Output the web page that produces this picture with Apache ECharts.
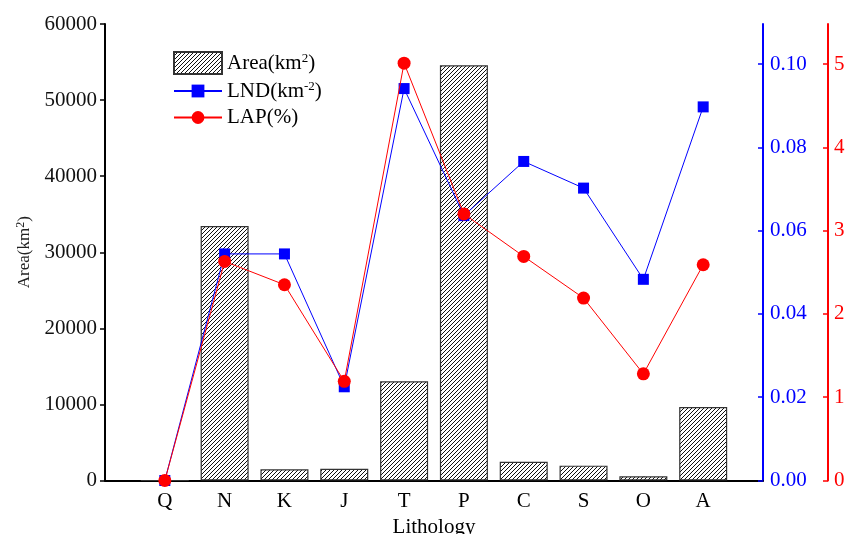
<!DOCTYPE html>
<html>
<head>
<meta charset="utf-8">
<script src="https://cdn.jsdelivr.net/npm/echarts@6/dist/echarts.min.js"></script>
<style>
  html, body { margin: 0; padding: 0; background: #fff; }
  #chart { width: 845px; height: 534px; }
</style>
</head>
<body>
<div id="chart"></div>
<script>
// Lithology classes along the x axis
const categories = ['Q', 'N', 'K', 'J', 'T', 'P', 'C', 'S', 'O', 'A'];
// Outcrop area of each lithology (km²)
const areaKm2 = [0, 33450, 1470, 1550, 13040, 54570, 2470, 1950, 550, 9660];
// Landslide number density (km⁻²)
const lnd = [0, 0.0544, 0.0544, 0.0225, 0.0941, 0.0636, 0.0766, 0.0702, 0.0483, 0.0897];
// Landslide area percentage (%)
const lap = [0, 2.63, 2.35, 1.19, 5.01, 3.20, 2.69, 2.19, 1.28, 2.59];

// Tick values on the two right-hand axes
const lndTicks = [0, 0.02, 0.04, 0.06, 0.08, 0.10];
const lapTicks = [0, 1, 2, 3, 4, 5];

const FONT = 'Liberation Serif';

// one empty slot either side of the categories
const xData = [''].concat(categories, ['']);
const pad = arr => [null].concat(arr, [null]);

// diagonal hatch fill for the bars
function hatchPattern() {
  const s = 4;
  const c = document.createElement('canvas');
  c.width = s; c.height = s;
  const g = c.getContext('2d');
  g.fillStyle = '#ffffff';
  g.fillRect(0, 0, s, s);
  g.strokeStyle = '#111111';
  g.lineWidth = 1;
  g.beginPath();
  g.moveTo(0, s); g.lineTo(s, 0);
  g.moveTo(-1, 1); g.lineTo(1, -1);
  g.moveTo(s - 1, s + 1); g.lineTo(s + 1, s - 1);
  g.stroke();
  return c;
}

const chart = echarts.init(document.getElementById('chart'), null, { renderer: 'canvas' });

const legendNames = {
  'Area': 'Area(km{sup|2})',
  'LND': 'LND(km{sup|-2})',
  'LAP': 'LAP(%)'
};

const legendText = {
  fontFamily: FONT,
  fontSize: 21,
  color: '#000',
  rich: {
    sup: { fontFamily: FONT, fontSize: 13, verticalAlign: 'top', padding: [0, 0, 9, 0], color: '#000' }
  }
};

function makeLegend(name, top, itemHeight, icon) {
  const l = {
    orient: 'vertical',
    left: 173,
    top: top,
    padding: 0,
    itemWidth: 48,
    itemHeight: itemHeight,
    itemGap: 0,
    data: [name],
    formatter: n => legendNames[n],
    textStyle: legendText
  };
  if (icon) l.icon = icon;
  return l;
}

chart.setOption({
  backgroundColor: '#ffffff',
  animation: false,
  textStyle: { fontFamily: FONT },
  grid: { left: 105, right: 82, top: 24, bottom: 53.5, containLabel: false, outerBoundsMode: 'none' },
  legend: [
    makeLegend('Area', 51, 22, 'rect'),
    makeLegend('LND', 80, 16),
    makeLegend('LAP', 107, 16)
  ],
  xAxis: {
    type: 'category',
    data: xData,
    boundaryGap: false,
    name: 'Lithology',
    nameLocation: 'middle',
    nameGap: 36,
    nameTextStyle: { fontFamily: FONT, fontSize: 21, color: '#000' },
    axisLine: { lineStyle: { color: '#000', width: 2 } },
    axisTick: {
      inside: true, length: 4,
      interval: (i) => i > 0 && i < xData.length - 1,
      lineStyle: { color: '#000', width: 1.5 }
    },
    axisLabel: { fontFamily: FONT, fontSize: 21, color: '#000', margin: 10, interval: 0 },
    splitLine: { show: false }
  },
  yAxis: [
    {
      type: 'value',
      position: 'left',
      min: 0, max: 60000, interval: 10000,
      name: 'Area(km{sup|2})',
      nameLocation: 'middle',
      nameRotate: 90,
      nameGap: 71,
      nameTextStyle: {
        fontFamily: FONT, fontSize: 17, color: '#222',
        rich: { sup: { fontFamily: FONT, fontSize: 12, verticalAlign: 'top', padding: [0, 0, 7, 0], color: '#222' } }
      },
      axisLine: { show: true, lineStyle: { color: '#000', width: 2 } },
      axisTick: { show: true, inside: false, length: 5, lineStyle: { color: '#000', width: 1.5 } },
      axisLabel: { fontFamily: FONT, fontSize: 21, color: '#111', margin: 8, formatter: v => String(v) },
      splitLine: { show: false }
    },
    {
      type: 'value',
      position: 'right',
      min: 0, max: 0.1096,
      axisLine: { show: true, onZero: false, lineStyle: { color: '#0000ff', width: 2 } },
      axisTick: { show: true, inside: true, length: 5, customValues: lndTicks, lineStyle: { color: '#0000ff', width: 1.5 } },
      axisLabel: { fontFamily: FONT, fontSize: 21, color: '#0000ff', margin: 7, customValues: lndTicks, formatter: v => v.toFixed(2) },
      splitLine: { show: false }
    },
    {
      type: 'value',
      position: 'right',
      offset: 65,
      min: 0, max: 5.48,
      axisLine: { show: true, onZero: false, lineStyle: { color: '#ff0000', width: 2 } },
      axisTick: { show: true, inside: true, length: 5, customValues: lapTicks, lineStyle: { color: '#ff0000', width: 1.5 } },
      axisLabel: { fontFamily: FONT, fontSize: 21, color: '#ff0000', margin: 6, customValues: lapTicks, formatter: v => String(v) },
      splitLine: { show: false }
    }
  ],
  series: [
    {
      name: 'Area',
      type: 'bar',
      yAxisIndex: 0,
      barWidth: 48,
      data: pad(areaKm2),
      itemStyle: {
        color: { image: hatchPattern(), repeat: 'repeat' },
        borderColor: '#333',
        borderWidth: 1.2
      },
      z: 2
    },
    {
      name: 'LND',
      type: 'line',
      yAxisIndex: 1,
      data: pad(lnd),
      symbol: 'rect',
      symbolSize: 11,
      lineStyle: { color: '#0000ff', width: 1 },
      itemStyle: { color: '#0000ff' },
      z: 3
    },
    {
      name: 'LAP',
      type: 'line',
      yAxisIndex: 2,
      data: pad(lap),
      symbol: 'circle',
      symbolSize: 13,
      lineStyle: { color: '#ff0000', width: 1 },
      itemStyle: { color: '#ff0000' },
      z: 4
    }
  ]
});
</script>
</body>
</html>
